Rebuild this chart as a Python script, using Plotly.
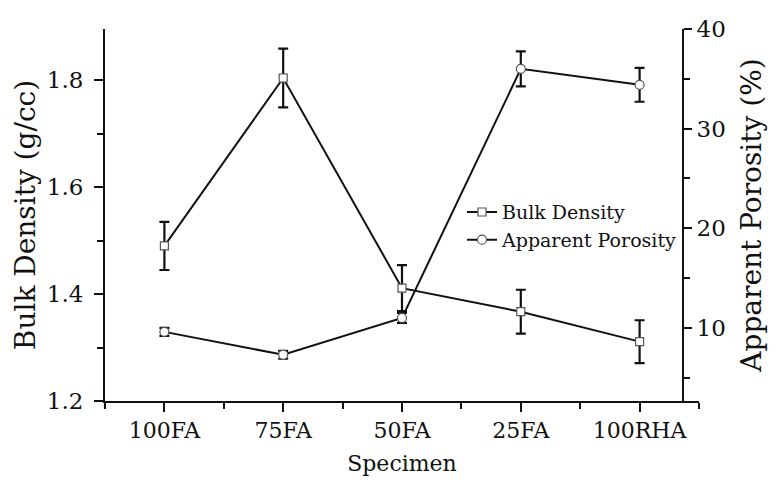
import plotly.graph_objects as go

# Specimen categories
specimens = ["100FA", "75FA", "50FA", "25FA", "100RHA"]

# Bulk density (g/cc) with standard deviations
bulk_density = [1.490, 1.804, 1.411, 1.367, 1.311]
bulk_density_err = [0.045, 0.055, 0.043, 0.041, 0.040]

# Apparent porosity (%) with standard deviations
apparent_porosity = [9.6, 7.3, 11.0, 36.0, 34.4]
apparent_porosity_err = [0.4, 0.4, 0.5, 1.75, 1.7]

xpos = list(range(len(specimens)))

FONT = "DejaVu Serif"
BLACK = "#111111"

fig = go.Figure()

fig.add_trace(go.Scatter(
    x=xpos, y=bulk_density, name="Bulk Density", legendgroup="bd",
    mode="lines+markers",
    line=dict(color=BLACK, width=2),
    marker=dict(symbol="square", size=8, color="white",
                line=dict(color="#555555", width=1.2)),
    error_y=dict(type="data", array=bulk_density_err, visible=True,
                 color=BLACK, thickness=2.2, width=5),
    yaxis="y", xaxis="x",
))

fig.add_trace(go.Scatter(
    x=xpos, y=apparent_porosity, name="Apparent Porosity", legendgroup="ap",
    mode="lines+markers",
    line=dict(color=BLACK, width=2),
    marker=dict(symbol="circle", size=9, color="white",
                line=dict(color="#555555", width=1.2)),
    error_y=dict(type="data", array=apparent_porosity_err, visible=True,
                 color=BLACK, thickness=2.2, width=5),
    yaxis="y2", xaxis="x",
))

axis_common = dict(showgrid=False, zeroline=False, showline=True,
                   linecolor=BLACK, linewidth=2, tickcolor=BLACK, tickwidth=2)

fig.update_layout(
    width=780, height=484,
    margin=dict(l=105, r=81, t=29, b=81),
    paper_bgcolor="white", plot_bgcolor="white",
    font=dict(family=FONT, color=BLACK),
    showlegend=True,
    legend=dict(x=0.601, y=0.47, xanchor="left", yanchor="middle",
                bgcolor="rgba(0,0,0,0)", font=dict(family=FONT, size=19, color=BLACK),
                tracegroupgap=0, itemwidth=30),
    xaxis=dict(
        range=[-0.5, 4.5], tickmode="array", tickvals=xpos, ticktext=specimens,
        ticks="outside", ticklen=9,
        minor=dict(tick0=0.5, dtick=1, ticks="outside", ticklen=6,
                   tickcolor=BLACK, tickwidth=2),
        tickfont=dict(size=22, family=FONT),
        title=dict(text="Specimen", font=dict(size=22, family=FONT), standoff=13),
        **axis_common,
    ),
    xaxis2=dict(
        range=[-0.5, 4.5], overlaying="x", side="top", anchor="y",
        tickmode="array", tickvals=xpos, showticklabels=False,
        ticks="inside", ticklen=7,
        minor=dict(tick0=0.5, dtick=1, ticks="inside", ticklen=7,
                   tickcolor=BLACK, tickwidth=2),
        **axis_common,
    ),
    yaxis=dict(
        range=[1.2, 1.8956], tickmode="array", tickvals=[1.2, 1.4, 1.6, 1.8],
        ticktext=["1.2", "1.4", "1.6", "1.8"],
        ticks="outside", ticklen=9, ticklabelstandoff=6,
        minor=dict(tickvals=[1.3, 1.5, 1.7], ticks="outside", ticklen=6,
                   tickcolor=BLACK, tickwidth=2),
        tickfont=dict(size=23, family=FONT),
        title=dict(text="Bulk Density (g/cc)", font=dict(size=28, family=FONT), standoff=3),
        **axis_common,
    ),
    yaxis2=dict(
        range=[2.66, 40], overlaying="y", side="right", anchor="free",
        position=(683 - 105) / 594,
        tickmode="array", tickvals=[10, 20, 30, 40],
        ticks="outside", ticklen=8,
        minor=dict(tickvals=[5, 15, 25, 35], ticks="outside", ticklen=6,
                   tickcolor=BLACK, tickwidth=2),
        tickfont=dict(size=23, family=FONT),
        title=dict(text="Apparent Porosity (%)", font=dict(size=28, family=FONT), standoff=16),
        **axis_common,
    ),
)

fig.write_html("out.html")
